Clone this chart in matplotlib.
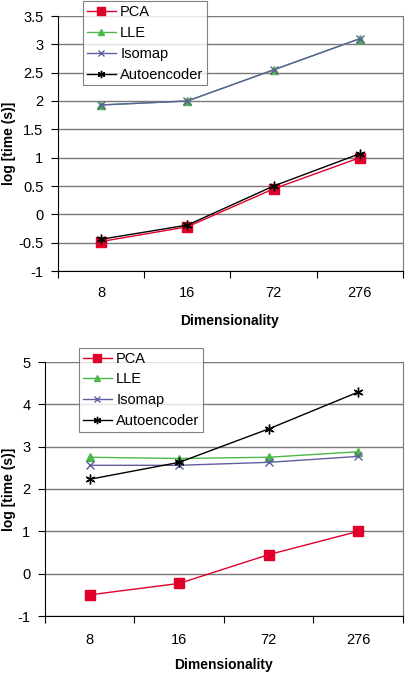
import matplotlib
matplotlib.use("Agg")
import matplotlib.pyplot as plt
import numpy as np

plt.rcParams['font.family'] = ['Liberation Sans', 'DejaVu Sans']

categories = ["8", "16", "72", "276"]

# Top panel
top_pca = [-0.48, -0.22, 0.45, 1.00]
top_lle = [1.93, 2.00, 2.55, 3.10]
top_isomap = [1.93, 2.00, 2.55, 3.10]
top_auto = [-0.44, -0.19, 0.50, 1.07]
top_yticks = [-1, -0.5, 0, 0.5, 1, 1.5, 2, 2.5, 3, 3.5]

# Bottom panel
bot_pca = [-0.50, -0.23, 0.45, 1.00]
bot_lle = [2.75, 2.72, 2.75, 2.88]
bot_isomap = [2.56, 2.56, 2.63, 2.77]
bot_auto = [2.23, 2.63, 3.42, 4.29]
bot_yticks = [-1, 0, 1, 2, 3, 4, 5]

W, H = 406, 674
fig = plt.figure(figsize=(W / 100, H / 100), dpi=100)

RED = '#e0002a'
GREEN = '#4cb848'
PURPLE = '#5e5ea0'
BLACK = '#000000'
GRID = '#7a7a7a'


def ax_rect(l, r, t, b):
    return [l / W, 1 - b / H, (r - l) / W, (b - t) / H]


def draw(ax, pca, lle, iso, auto, yticks, ylim, legend_xy, tick_pad):
    x = np.arange(len(categories))
    ax.plot(x, pca, color=RED, lw=1.0, marker='s', ms=7, mfc=RED, mec=RED, label='PCA', zorder=3)
    ax.plot(x, lle, color=GREEN, lw=1.0, marker='^', ms=6, mfc=GREEN, mec=GREEN, label='LLE', zorder=3)
    ax.plot(x, iso, color=PURPLE, lw=1.0, marker='x', ms=6, mew=1.0, mfc=PURPLE, mec=PURPLE, label='Isomap', zorder=4)
    ax.plot(x, auto, color=BLACK, lw=1.0, marker=(6, 2, 0), ms=7, mew=1.0, mec=BLACK, label='Autoencoder', zorder=5)
    ax.set_xlim(-0.5, len(categories) - 0.5)
    ax.set_ylim(*ylim)
    ax.set_yticks(yticks)
    ax.set_yticklabels([('%g' % v) for v in yticks], fontsize=10.5)
    ax.set_xticks(np.arange(-0.5, len(categories), 1.0))
    ax.set_xticklabels([])
    ax.set_xticks(x, minor=True)
    ax.set_xticklabels(categories, minor=True, fontsize=10.5)
    ax.tick_params(axis='x', which='major', direction='out', length=5, color='black', width=0.8)
    ax.tick_params(axis='x', which='minor', length=0, pad=tick_pad)
    ax.tick_params(axis='y', direction='out', length=5, width=0.8, pad=5.5)
    ax.yaxis.grid(True, color=GRID, lw=1.0)
    ax.set_axisbelow(True)
    ax.spines['top'].set_visible(False)
    ax.spines['right'].set_color(GRID)
    ax.spines['left'].set_color('black')
    ax.spines['bottom'].set_color('black')
    leg = ax.legend(loc='upper left', bbox_to_anchor=legend_xy, bbox_transform=fig.transFigure,
                    fontsize=10.5, frameon=True, fancybox=False, edgecolor='#606060',
                    handlelength=2.0, handletextpad=0.3, borderpad=0.25, labelspacing=0.47,
                    borderaxespad=0, markerscale=0.75)
    leg.get_frame().set_linewidth(0.8)
    leg.set_zorder(10)
    return ax


ax1 = fig.add_axes(ax_rect(58, 403, 16, 271))
draw(ax1, top_pca, top_lle, top_isomap, top_auto, top_yticks, (-1, 3.5),
     (83 / W, 1 - 1.5 / H), 11)

ax2 = fig.add_axes(ax_rect(45, 403, 362, 616))
draw(ax2, bot_pca, bot_lle, bot_isomap, bot_auto, bot_yticks, (-1, 5),
     (79 / W, 1 - 348 / H), 12)

# axis titles placed in figure pixels
fig.text(9 / W, 1 - 143 / H, 'log [time (s)]', rotation=90, ha='center', va='center',
         fontsize=10, fontweight='bold')
fig.text(9 / W, 1 - 489 / H, 'log [time (s)]', rotation=90, ha='center', va='center',
         fontsize=10, fontweight='bold')
fig.text(230 / W, 1 - 321.5 / H, 'Dimensionality', ha='center', va='center',
         fontsize=10, fontweight='bold')
fig.text(224 / W, 1 - 665.5 / H, 'Dimensionality', ha='center', va='center',
         fontsize=10, fontweight='bold')

fig.savefig('out.png', dpi=100)
